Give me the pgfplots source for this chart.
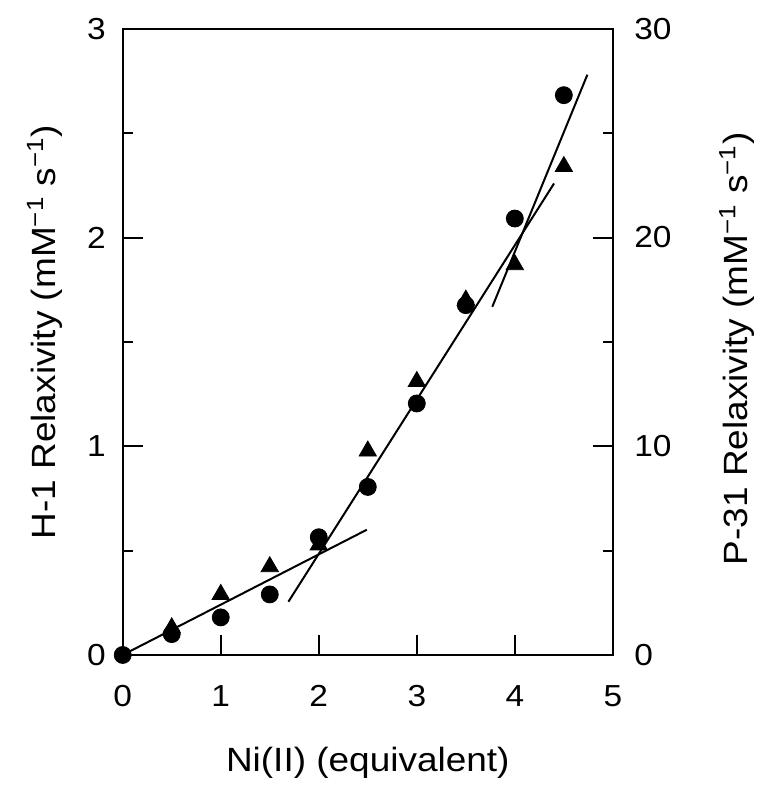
\documentclass[border=0pt]{standalone}
\usepackage{fontspec}
\setmainfont{Liberation Sans}[FakeStretch=1.1]
\usepackage{pgfplots}
\pgfplotsset{compat=1.18}

% H-1 data (left axis)
\pgfplotstableread{
x y
0   0
0.5 0.10
1   0.18
1.5 0.29
2   0.564
2.5 0.805
3   1.205
3.5 1.676
4   2.091
4.5 2.682
}\hone
% P-31 data (right axis)
\pgfplotstableread{
x y
0.5 1.3
1   2.9
1.5 4.23
2   5.27
2.5 9.77
3   13.1
3.5 17.0
4   18.7
4.5 23.4
}\pthree

\begin{document}
\begin{tikzpicture}
\useasboundingbox (-61.35pt,-65pt) rectangle (318.5pt,327.4pt);
\pgfplotsset{every axis/.append style={
  width=245pt,height=313pt,scale only axis,
  xmin=0,xmax=5,
  font=\fontsize{15.2}{18}\selectfont,
  label style={font=\fontsize{16.8}{20}\selectfont},
  /pgf/number format/assume math mode=true,
  axis line style={line width=1pt},
  tick style={line width=1pt,black},
  major tick length=10pt,minor tick length=5pt,
  tick align=inside,
}}
\begin{axis}[
  ymin=0,ymax=3,
  xtick={0,...,5},ytick={0,1,2,3},minor ytick={0.5,1.5,2.5},
  xtick pos=bottom,ytick pos=left,
  xticklabel style={anchor=base,inner sep=0pt,yshift=-25.8pt},
  yticklabel style={anchor=east,inner sep=0pt,xshift=-8.3pt},
  xlabel={Ni(II) (equivalent)},
  xlabel style={at={(axis description cs:0.5,0)},anchor=base,yshift=-58.3pt},
  ylabel={H-1 Relaxivity (mM\textsuperscript{−1} s\textsuperscript{−1})},
  ylabel style={at={(axis description cs:-0.137,0.847)},anchor=base east,rotate=0,inner sep=0pt},
]
\addplot[black,line width=1pt] coordinates {(0,0) (2.49,0.6)};
\addplot[black,line width=1pt] coordinates {(1.69,0.255) (4.40,2.259)};
\addplot[black,line width=1pt] coordinates {(3.77,1.668) (4.74,2.78)};
\addplot[only marks,mark=*,mark size=4.25pt,black] table[x=x,y=y] {\hone};
\end{axis}
\begin{axis}[
  ymin=0,ymax=30,
  axis x line=none,axis y line*=right,
  ytick={0,10,20,30},minor ytick={5,15,25},
  yticklabel style={anchor=west,inner sep=0pt,xshift=10.5pt},
  ylabel={P-31 Relaxivity (mM\textsuperscript{−1} s\textsuperscript{−1})},
  ylabel style={at={(axis description cs:1.2755,0.835)},anchor=base east,rotate=0,inner sep=0pt},
]
\addplot[only marks,mark=triangle*,mark size=5pt,black] table[x=x,y=y] {\pthree};
\end{axis}
\end{tikzpicture}
\end{document}
